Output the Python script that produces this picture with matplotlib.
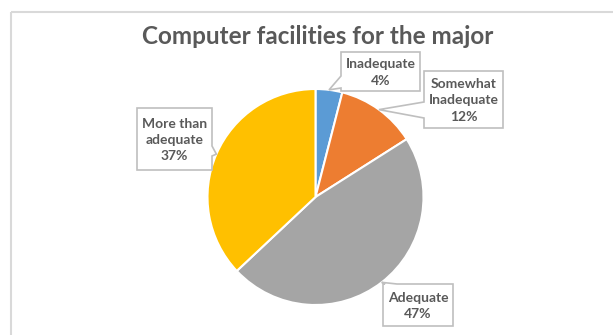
import numpy as np
import matplotlib
matplotlib.use("Agg")
import matplotlib.pyplot as plt
from matplotlib.patches import Polygon, Rectangle

plt.rcParams['font.family'] = ['Lato', 'DejaVu Sans']

title = "Computer facilities for the major"
categories = ["Inadequate", "Somewhat\nInadequate", "Adequate", "More than\nadequate"]
shares = [4, 12, 47, 37]
colors = ["#5B9BD5", "#ED7D31", "#A5A5A5", "#FFC000"]

text_color = "#595959"

# label boxes in pixels (x0, y0, x1, y1), side the pointer leaves from, pointer base
boxes = [
    ((341, 52, 420, 91), "left", (76, 88)),
    ((424, 71, 503, 128), "left", (102, 118)),
    ((383, 284, 453, 326), "top", (385, 397)),
    ((137, 108, 212, 170), "right", (146, 156)),
]

W, H = 613, 335
fig = plt.figure(figsize=(W / 100, H / 100), dpi=100)
ax = fig.add_axes([0, 0, 1, 1])

cx, cy, r = 315.5, 197, 108
# with the y axis flipped, counterclock=True runs clockwise on screen
wedges, _ = ax.pie(shares, colors=colors, startangle=-90, counterclock=True,
                   center=(cx, cy), radius=r, frame=True,
                   wedgeprops=dict(edgecolor='white', linewidth=1.5))
ax.set_xlim(0, W)
ax.set_ylim(H, 0)  # y grows downward, like pixel rows
ax.set_aspect('equal')
ax.axis('off')

# chart area border
ax.add_patch(Rectangle((10.5, 11.5), W, H, fill=False, edgecolor="#D9D9D9", lw=1.5))

ax.text(318, 37, title, ha='center', va='center', fontsize=17.5,
        fontweight='bold', color=text_color)


def callout(box, side, base, tip):
    x0, y0, x1, y1 = box
    b1, b2 = base
    if side == "left":
        pts = [(x0, y0), (x1, y0), (x1, y1), (x0, y1), (x0, b2), tip, (x0, b1)]
    elif side == "right":
        pts = [(x0, y0), (x1, y0), (x1, b1), tip, (x1, b2), (x1, y1), (x0, y1)]
    else:
        pts = [(x0, y0), (b1, y0), tip, (b2, y0), (x1, y0), (x1, y1), (x0, y1)]
    ax.add_patch(Polygon(pts, closed=True, facecolor='white',
                         edgecolor="#BFBFBF", lw=1.2, zorder=5))


total = sum(shares)
start = 0.0
for name, val, (box, side, base) in zip(categories, shares, boxes):
    mid = start + val / 2
    start += val
    ang = np.deg2rad(90 - mid / total * 360)
    tip = (cx + r * np.cos(ang), cy - r * np.sin(ang))
    callout(box, side, base, tip)
    x0, y0, x1, y1 = box
    ax.text((x0 + x1) / 2, (y0 + y1) / 2 + 1, f"{name}\n{val}%", ha='center',
            va='center', multialignment='center', fontsize=10, fontweight='bold',
            color=text_color, linespacing=1.45, zorder=6)

fig.savefig("out.png", dpi=100)
